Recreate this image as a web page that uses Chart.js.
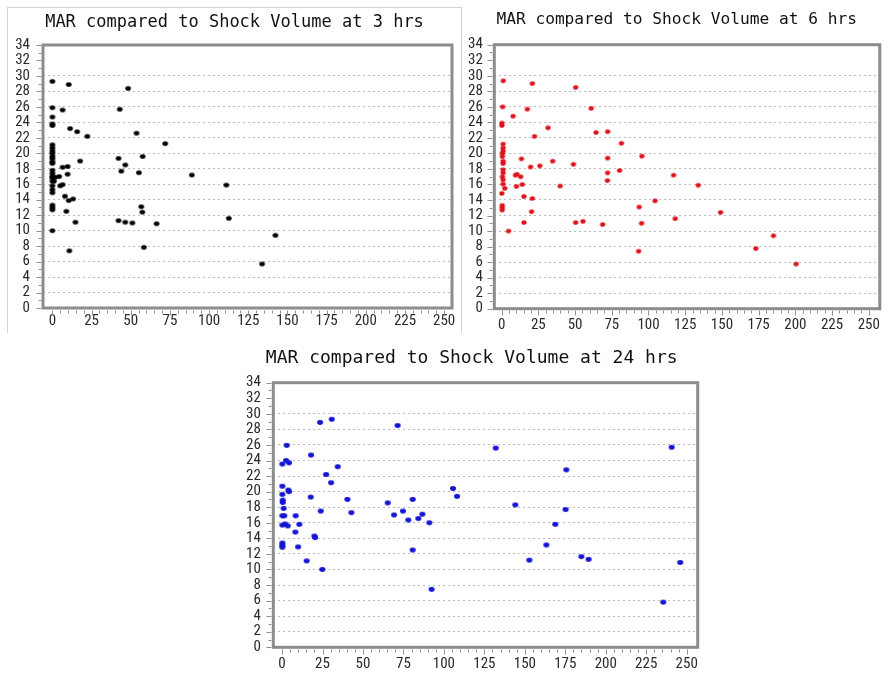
<!DOCTYPE html>
<html>
<head>
<meta charset="utf-8">
<script src="https://cdn.jsdelivr.net/npm/chart.js@4/dist/chart.umd.min.js"></script>
<style>
  html, body { margin: 0; padding: 0; background: #fff; }
  body { width: 888px; height: 677px; position: relative; overflow: hidden; }
  .panel { position: absolute; }
  .panel canvas { display: block; }
  #box3h { position: absolute; left: 7px; top: 7px; width: 453px; height: 325px;
           border-left: 1px solid #d4d4d4; border-top: 1px solid #d4d4d4; border-right: 1px solid #d4d4d4; }
</style>
</head>
<body>
<div id="box3h"></div>
<div class="panel" style="left:0px;top:0px;width:470px;height:340px"><canvas id="c3"></canvas></div>
<div class="panel" style="left:466px;top:0px;width:422px;height:340px"><canvas id="c6"></canvas></div>
<div class="panel" style="left:235px;top:340px;width:480px;height:337px"><canvas id="c24"></canvas></div>
<script>
// Shock volume (x) and MAR (y) at 3 hours
const shockVolume3h = [0,10.4,48.3,0,6.5,43,0,0,0,11.3,15.8,22.3,53.7,72,
  0,0,0,0,0,0,0,0,
  17.7,42.2,57.6,46.5,6.5,9.7,44,55.2,89,
  0,0,0,0,1.7,4.3,9.7,0,1,
  0,0,0,5,6.5,8,10.4,13.2,
  0,0,0,8.9,56.7,57.4,
  14.7,42.2,46.5,51,66.5,0,58.4,10.8,
  111,112.6,142.3,133.8];
const mar3h = [29.3,28.9,28.4,25.9,25.6,25.7,24.7,23.8,23.6,23.2,22.8,22.2,22.6,21.25,
  21.1,20.7,20.3,20.0,19.6,19.3,18.9,18.7,
  19.0,19.35,19.6,18.5,18.2,18.3,17.7,17.5,17.2,
  17.8,17.4,17.0,16.8,16.9,17.0,17.3,16.4,16.4,
  15.8,15.3,14.9,15.8,15.95,14.45,13.9,14.1,
  13.3,13.0,12.7,12.5,13.1,12.4,
  11.1,11.3,11.1,11.0,10.9,10.0,7.85,7.4,
  15.9,11.6,9.4,5.7];

// Shock volume (x) and MAR (y) at 6 hours
const shockVolume6h = [1.1,20.9,50.4,0.7,17.5,61,7.8,0.2,0.2,31.6,64.3,72.2,22.4,81.6,
  1,1,1,0.5,0.5,1,1,
  13.5,34.8,72.2,95.5,48.9,19.7,26,
  1,1,0.5,1,9.4,10.5,13,72.2,80.3,72,
  1,14.1,2.2,10.1,39.9,0.2,15.2,20.9,
  0.4,0.4,0.4,20.4,93.7,104.5,
  15.2,50.4,55.4,68.8,95.3,4.7,93.3,
  117.1,133.9,118.2,149.1,185.1,173.1,200.5];
const mar6h = [29.35,29.0,28.5,26.0,25.7,25.8,24.8,23.9,23.6,23.3,22.7,22.8,22.2,21.3,
  21.2,20.7,20.3,20.0,19.6,19.0,18.7,
  19.3,19.0,19.4,19.65,18.6,18.25,18.4,
  17.9,17.5,17.0,16.6,17.2,17.3,17.0,17.5,17.8,16.5,
  16.05,16.0,15.5,15.75,15.8,14.85,14.45,14.2,
  13.3,13.0,12.7,12.5,13.1,13.9,
  11.1,11.1,11.25,10.85,11.0,10.0,7.4,
  17.2,15.9,11.6,12.4,9.4,7.75,5.75];

// Shock volume (x) and MAR (y) at 24 hours
const shockVolume24h = [0.2,2.9,2.5,4.3,0.2,3.9,4.3,0.2,0.4,0.4,1,0.2,1.4,0.2,1.9,3.5,0.2,0.2,0.2,
  8.4,10.7,8.2,9.9,17.7,17.9,20,20.4,15.2,23.5,30.7,23.9,24.9,27.2,30.3,34.4,40.4,42.8,
  65.3,69.2,71.4,74.7,78,80.7,80.7,84.2,86.7,91,92.4,105.6,108.1,
  132,144.1,175.6,175.2,168.8,163.3,152.8,184.9,189.4,240.7,246,235.5];
const mar24h = [23.55,25.95,24.0,23.7,20.7,20.2,20.0,19.65,18.9,18.6,17.85,16.9,16.9,15.7,15.85,15.6,13.4,13.1,12.85,
  16.9,15.8,14.8,12.9,19.3,24.7,14.3,14.1,11.1,28.9,29.3,17.5,10.0,22.2,21.15,23.2,19.0,17.3,
  18.55,17.0,28.5,17.5,16.35,19.0,12.5,16.55,17.1,16.0,7.45,20.4,19.4,
  25.6,18.3,22.8,17.7,15.8,13.15,11.2,11.65,11.3,25.7,10.9,5.8];

// Axis tick values
const xTickValues = [0,25,50,75,100,125,150,175,200,225,250];
const yTickValues = [0,2,4,6,8,10,12,14,16,18,20,22,24,26,28,30,32,34];
const xMinorStep = 5;
const yMinorStep = 1;

const titles = {
  h3: 'MAR compared to Shock Volume at 3 hrs',
  h6: 'MAR compared to Shock Volume at 6 hrs',
  h24: 'MAR compared to Shock Volume at 24 hrs'
};

const TICK_FONT = "'Liberation Sans Narrow', 'Arial Narrow', 'Roboto Condensed', 'Liberation Sans', sans-serif";
const TITLE_FONT = "'DejaVu Sans Mono', 'Liberation Mono', monospace";

// small elliptical marker sprite
function dot(color, rx, ry) {
  const c = document.createElement('canvas');
  c.width = Math.ceil(rx * 2) + 2;
  c.height = Math.ceil(ry * 2) + 2;
  const g = c.getContext('2d');
  g.fillStyle = color;
  g.beginPath();
  g.ellipse(c.width / 2, c.height / 2, rx, ry, 0, 0, Math.PI * 2);
  g.fill();
  return c;
}

// plot frame, tick marks and the panel heading
const framePlugin = {
  id: 'panelFrame',
  beforeDatasetsDraw(chart, args, o) {
    const { ctx, chartArea: a, scales: { x, y } } = chart;
    ctx.save();
    ctx.strokeStyle = '#8f8f8f';
    ctx.lineWidth = 1;
    ctx.beginPath();
    const yl = Math.round(a.left - 1.5) - 0.5;
    for (let v = y.min; v <= y.max + 1e-9; v += yMinorStep) {
      const py = Math.round(y.getPixelForValue(v)) + 0.5;
      const len = yTickValues.includes(v) ? 5 : 3;
      ctx.moveTo(yl, py); ctx.lineTo(yl - len, py);
    }
    const xb = Math.round(a.bottom + 1.5) + 0.5;
    for (let v = 0; v <= xTickValues[xTickValues.length - 1] + 1e-9; v += xMinorStep) {
      const px = Math.round(x.getPixelForValue(v)) + 0.5;
      const len = xTickValues.includes(v) ? 5 : 3;
      ctx.moveTo(px, xb); ctx.lineTo(px, xb + len);
    }
    ctx.stroke();
    ctx.lineWidth = 3;
    ctx.strokeStyle = '#8c8c8c';
    ctx.strokeRect(a.left, a.top, a.right - a.left, a.bottom - a.top);
    ctx.restore();
  },
  afterDraw(chart, args, o) {
    const { ctx } = chart;
    ctx.save();
    ctx.fillStyle = '#111';
    ctx.font = o.titleSize + 'px ' + TITLE_FONT;
    ctx.textAlign = 'center';
    ctx.textBaseline = 'alphabetic';
    ctx.fillText(o.title, o.titleX, o.titleY);
    ctx.restore();
  }
};

function buildPanel(id, xs, ys, p) {
  const points = xs.map((v, i) => ({ x: v, y: ys[i] }));
  return new Chart(document.getElementById(id), {
    type: 'scatter',
    data: {
      datasets: [{
        data: points,
        pointStyle: dot(p.color, p.rx, p.ry),
        pointRadius: 3,
        pointHoverRadius: 3,
        backgroundColor: p.color,
        borderColor: p.color
      }]
    },
    options: {
      responsive: true,
      maintainAspectRatio: false,
      animation: false,
      devicePixelRatio: 1,
      layout: { padding: { left: 0, right: p.padRight, top: p.padTop, bottom: 0 } },
      plugins: {
        legend: { display: false },
        tooltip: { enabled: false },
        panelFrame: { title: p.title, titleX: p.titleX, titleY: p.titleY, titleSize: p.titleSize }
      },
      scales: {
        x: {
          type: 'linear',
          position: 'bottom',
          min: p.xMin,
          max: p.xMax,
          afterBuildTicks: s => { s.ticks = xTickValues.map(v => ({ value: v })); },
          afterFit: s => { s.height = p.xAxisHeight; },
          grid: { display: false, drawTicks: false },
          border: { display: false },
          ticks: {
            padding: p.xLabelPad,
            color: '#2a2a2a',
            font: { family: TICK_FONT, size: p.tickSize },
            maxRotation: 0,
            autoSkip: false
          }
        },
        y: {
          type: 'linear',
          min: 0,
          max: 34,
          afterBuildTicks: s => { s.ticks = yTickValues.map(v => ({ value: v })); },
          afterFit: s => { s.width = p.yAxisWidth; },
          grid: {
            drawTicks: false,
            lineWidth: 1,
            color: c => (c.tick && c.tick.value >= 2 && c.tick.value <= 30) ? '#bcbcbc' : 'rgba(0,0,0,0)'
          },
          border: { display: false, dash: [2, 3] },
          ticks: {
            padding: p.yLabelPad,
            color: '#2a2a2a',
            font: { family: TICK_FONT, size: p.tickSize },
            autoSkip: false
          }
        }
      }
    },
    plugins: [framePlugin]
  });
}

buildPanel('c3', shockVolume3h, mar3h, {
  color: '#000000', rx: 2.8, ry: 2.3,
  title: titles.h3, titleX: 234.5, titleY: 26.5, titleSize: 17,
  padTop: 45, padRight: 18, yAxisWidth: 43, xAxisHeight: 32,
  xMin: -6, xMax: 255, xLabelPad: 4, yLabelPad: 13, tickSize: 15
});

buildPanel('c6', shockVolume6h, mar6h, {
  color: '#e0101a', rx: 2.6, ry: 2.3,
  title: titles.h6, titleX: 210.7, titleY: 24, titleSize: 16.2,
  padTop: 44.7, padRight: 3.7, yAxisWidth: 28.3, xAxisHeight: 31.3,
  xMin: -5, xMax: 257.5, xLabelPad: 8, yLabelPad: 11.5, tickSize: 15
});

buildPanel('c24', shockVolume24h, mar24h, {
  color: '#1414d2', rx: 3, ry: 2.4,
  title: titles.h24, titleX: 236.7, titleY: 23.3, titleSize: 18,
  padTop: 42.7, padRight: 17.3, yAxisWidth: 38.3, xAxisHeight: 29.7,
  xMin: -5.4, xMax: 256.8, xLabelPad: 7.5, yLabelPad: 12.5, tickSize: 15
});
</script>
</body>
</html>
